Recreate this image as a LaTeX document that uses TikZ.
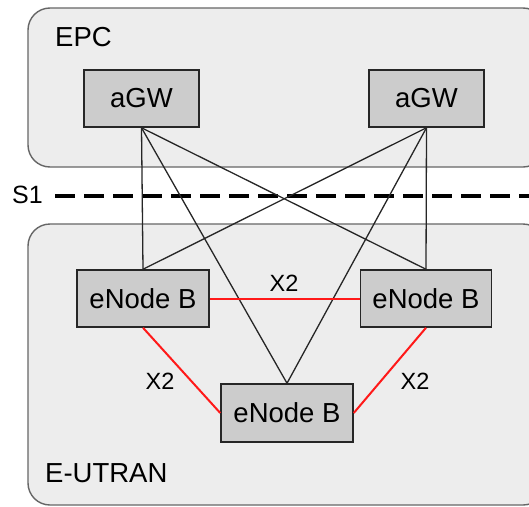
\documentclass[tikz,border=0pt]{standalone}
\usepackage{fontspec}
\setmainfont{Liberation Sans}
\begin{document}
\begin{tikzpicture}[x=1pt,y=-1pt,
  netarea/.style={draw=black!60,line width=1.4pt,fill=black!7,rounded corners=22pt},
  box/.style={draw=black!85,line width=1.5pt,fill=black!20,inner sep=0pt,
    font=\fontsize{27.5}{30}\selectfont},
  lbl/.style={inner sep=0pt,font=\fontsize{27.5}{30}\selectfont},
  xlbl/.style={inner sep=0pt,font=\fontsize{23.5}{26}\selectfont},
  s1link/.style={draw=black!85,line width=1.3pt},
  x2link/.style={draw=red!90!white,line width=2pt},
  s1line/.style={draw=black,line width=4pt,dash pattern=on 20pt off 9pt}]
\useasboundingbox (0,0) rectangle (529,506);

% core network and radio access areas
\path[netarea] (28,8) rectangle (545,167);
\path[netarea] (28,224) rectangle (545,505);
\node[lbl,anchor=west] (epc) at (55,37) {EPC};
\node[lbl,anchor=west] (eutran) at (45,473) {E-UTRAN};

% S1 boundary
\node[lbl,anchor=west,font=\fontsize{25}{28}\selectfont] (s1) at (12,195) {S1};
\coordinate (s1start) at (55,196);
\coordinate (s1end) at (540,196);
\draw[s1line] (s1start) -- (s1end);

% gateways
\node[box,minimum width=115pt,minimum height=57pt] (gw1) at (141.5,98.5) {aGW};
\node[box,minimum width=115pt,minimum height=57pt] (gw2) at (426.5,98.5) {aGW};

% base stations
\node[box,minimum width=132pt,minimum height=57pt] (enb1) at (143,298.5) {eNode B};
\node[box,minimum width=131pt,minimum height=57pt] (enb2) at (426,298.5) {eNode B};
\node[box,minimum width=132pt,minimum height=58pt] (enb3) at (287,413) {eNode B};

% S1 links
\foreach \g in {gw1,gw2}{
  \foreach \e in {enb1,enb2,enb3}{
    \draw[s1link] (\g.south) -- (\e.north);
  }
}
% X2 links
\draw[x2link] (enb1.east) -- (enb2.west);
\draw[x2link] (enb1.south) -- (enb3.west);
\draw[x2link] (enb2.south) -- (enb3.east);
\node[xlbl] (x2a) at (284,283) {X2};
\node[xlbl] (x2b) at (160,381) {X2};
\node[xlbl] (x2c) at (415,381) {X2};
\end{tikzpicture}
\end{document}
